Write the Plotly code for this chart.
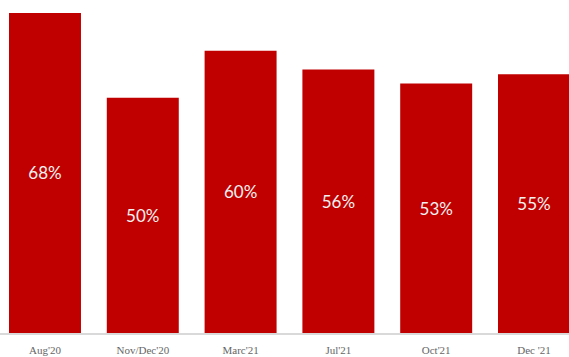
import plotly.graph_objects as go

categories = ["Aug'20", "Nov/Dec'20", "Marc'21", "Jul'21", "Oct'21", "Dec '21"]
values = [68, 50, 60, 56, 53, 55]
labels = [f"{v}%" for v in values]

fig = go.Figure(go.Bar(
    x=categories, y=values, text=labels,
    textposition="inside", insidetextanchor="middle",
    textfont=dict(family="Lato", size=17, color="#F2F2F2"),
    marker=dict(color="#C00000", line=dict(width=0)),
    cliponaxis=False,
))

W, H = 569, 357
fig.update_layout(
    width=W, height=H,
    margin=dict(l=0, r=0, t=0, b=24),
    plot_bgcolor="white", paper_bgcolor="white",
    bargap=0.264, showlegend=False,
)
fig.update_xaxes(
    range=[-0.460, 5.358], showgrid=False, showline=True,
    linecolor="#D9D9D9", linewidth=1.5, ticks="",
    tickfont=dict(family="Liberation Serif", size=11, color="#666666"),
    ticklabelstandoff=6,
)
fig.update_yaxes(range=[0, 70.76], visible=False)
fig.write_html(
    "out.html",
    config={"displayModeBar": False},
    post_script="document.body.style.margin='0';document.body.style.overflow='hidden';",
)
